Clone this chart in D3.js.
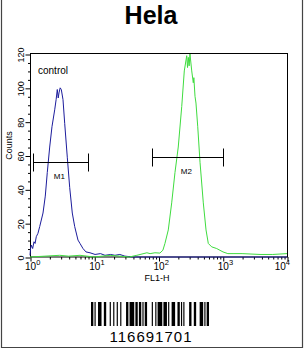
<!DOCTYPE html>
<html>
<head>
<meta charset="utf-8">
<script src="https://cdn.jsdelivr.net/npm/d3@7"></script>
<style>
  body { margin: 0; background: #fff; }
  svg { display: block; font-family: "Liberation Sans", Arial, sans-serif; }
</style>
</head>
<body>
<svg id="chart"></svg>
<script>
// histogram data (FL1-H value, counts)
const controlFL = [1.0, 1.02, 1.048, 1.1, 1.154, 1.2, 1.253, 1.33, 1.416, 1.594, 1.73, 1.858, 2.026, 2.198, 2.423, 2.55, 2.659, 2.75, 2.827, 2.95, 3.07, 3.263, 3.467, 3.806, 4.15, 4.552, 4.962, 5.585, 6.0, 6.68, 7.44, 8.59, 10.3, 12.5, 14.7, 18, 21, 25, 30, 40, 10000];
const controlCounts = [1, 5, 7, 5, 9, 8, 12, 14, 18, 26, 36, 50, 65, 77, 87, 93, 99, 94, 97, 100, 99, 93, 79, 59, 41, 26, 18, 10, 8, 5, 3, 2.5, 1.5, 2, 1, 1.5, 1, 1.5, 0.5, 0, 0];
const sampleFL = [1, 2.9, 4, 6, 10, 17.6, 25, 35, 46, 66, 74, 88, 105, 117, 126, 142, 160.5, 180.6, 203, 230, 252, 275, 283, 291, 300, 309, 329, 348, 355, 370, 383, 408, 443, 498, 549, 596, 673, 805, 1009, 1200, 1445, 2000, 3800, 6000, 10000];
const sampleCounts = [0, 1, 0.5, 1, 0, 1, 0.5, 0, 1, 2.5, 2, 2.5, 2.3, 4, 8, 16, 32, 50, 65, 89, 110, 119, 112, 118, 113, 120, 110, 103, 106, 95, 91, 77, 56, 32, 16, 8, 6, 5, 3, 2, 2, 2, 1.5, 1.5, 2];

// gates
const markerNames = ["M1", "M2"];
const markerFrom = [1.1, 79];
const markerTo = [8.0, 1000];
const markerLevel = [56, 59];

// axes
const yTicks = [0, 20, 40, 60, 80, 100, 120];
const yMinor = [5, 10, 15, 25, 30, 35, 45, 50, 55, 65, 70, 75, 85, 90, 95, 105, 110, 115];
const xTicks = [1, 10, 100, 1000, 10000];
const xExp = ["0", "1", "2", "3", "4"];

const title = "Hela";
const barcodeText = "116691701";

const W = 306, H = 349;
const svg = d3.select("#chart").attr("width", W).attr("height", H);
svg.append("rect").attr("width", W).attr("height", H).attr("fill", "#fff");

// outer frame
svg.append("path")
  .attr("d", `M1.5,0V347.5H302.5V0`)
  .attr("fill", "none").attr("stroke", "#444").attr("stroke-width", 1.2);

svg.append("text")
  .attr("x", 151).attr("y", 24)
  .attr("text-anchor", "middle")
  .attr("font-size", 25).attr("font-weight", "bold")
  .text(title);

const x = d3.scaleLog().domain([1, 10000]).range([30, 287]);
const y = d3.scaleLinear().domain([0, 120]).range([257, 54]);

// plot box
svg.append("rect")
  .attr("x", 30.5).attr("y", 53.5)
  .attr("width", 257).attr("height", 203.5)
  .attr("fill", "none").attr("stroke", "#000");

// y axis
const yAx = svg.append("g").attr("transform", "translate(30.5,0.5)");
yAx.call(d3.axisLeft(y).tickValues(yMinor).tickSize(2.5).tickFormat(""))
  .call(g => g.select(".domain").remove());
const yMaj = svg.append("g").attr("transform", "translate(30.5,0.5)");
yMaj.call(d3.axisLeft(y).tickValues(yTicks).tickSize(5).tickFormat(d3.format("d")))
  .call(g => g.select(".domain").remove());
yMaj.selectAll(".tick text")
  .attr("x", null).attr("dy", null)
  .attr("font-size", 9)
  .attr("font-family", "Liberation Sans, Arial, sans-serif")
  .attr("text-anchor", "middle")
  .attr("transform", "translate(-7,0) rotate(-90)");

svg.append("text")
  .attr("transform", `translate(12,${y(60) - 10}) rotate(-90)`)
  .attr("text-anchor", "middle")
  .attr("font-size", 9)
  .text("Counts");

// x axis
const xMinor = [];
xTicks.slice(0, -1).forEach(d => { for (let k = 2; k < 10; k++) xMinor.push(d * k); });
svg.append("g").attr("transform", "translate(0.5,257)")
  .call(d3.axisBottom(x).tickValues(xMinor).tickSize(2.5).tickFormat(""))
  .call(g => g.select(".domain").remove());
svg.append("g").attr("transform", "translate(0.5,257)")
  .call(d3.axisBottom(x).tickValues(xTicks).tickSize(4.5).tickFormat(""))
  .call(g => g.select(".domain").remove());

const xl = svg.append("g").selectAll("text").data(xTicks).join("text")
  .attr("x", (d, i) => i === xTicks.length - 1 ? x(d) + 3 : x(d) - 5)
  .attr("y", 270)
  .attr("text-anchor", (d, i) => i === xTicks.length - 1 ? "end" : "start")
  .attr("font-size", 10);
xl.append("tspan").text("10");
xl.append("tspan").attr("dy", -5).attr("font-size", 7.5).text((d, i) => xExp[i]);

svg.append("text")
  .attr("x", 157).attr("y", 281)
  .attr("text-anchor", "middle")
  .attr("font-size", 9)
  .text("FL1-H");

// histograms
const line = d3.line().x(d => x(d[0])).y(d => y(d[1]));
svg.append("path")
  .datum(d3.zip(controlFL, controlCounts))
  .attr("d", line)
  .attr("fill", "none").attr("stroke", "#1c1c9c").attr("stroke-width", 1);
svg.append("path")
  .datum(d3.zip(sampleFL, sampleCounts))
  .attr("d", line)
  .attr("fill", "none").attr("stroke", "#3fdc3f").attr("stroke-width", 1);

svg.append("text")
  .attr("x", 38).attr("y", 74)
  .attr("font-size", 10)
  .text("control");

// markers
const mk = svg.append("g").selectAll("g").data(markerNames).join("g");
mk.append("path")
  .attr("d", (d, i) => {
    const a = Math.round(x(markerFrom[i])) + 0.5, b = Math.round(x(markerTo[i])) + 0.5;
    const yy = Math.round(y(markerLevel[i])) + 0.5;
    return `M${a},${yy - 9}V${yy + 9}M${a},${yy}H${b}M${b},${yy - 9}V${yy + 9}`;
  })
  .attr("fill", "none").attr("stroke", "#000");
mk.append("text")
  .attr("x", (d, i) => x(Math.sqrt(markerFrom[i] * markerTo[i])) - 1)
  .attr("y", (d, i) => y(markerLevel[i]) + 17)
  .attr("text-anchor", "middle")
  .attr("font-size", 8)
  .text(d => d);

// barcode (Code 128: start C, 11 66 91 70, code B, "1", check, stop)
const codeWidths = ["211232", "231212", "121421", "412121", "112412", "114131", "123221", "111422", "2331112"];
const modules = [];
codeWidths.join("").split("").forEach((w, i) => modules.push({ w: +w, bar: i % 2 === 0 }));
let pos = 0;
modules.forEach(m => { m.s = pos; pos += m.w; });
const bx = d3.scaleLinear().domain([0, pos]).range([91, 209]);
svg.append("g").selectAll("rect").data(modules.filter(m => m.bar)).join("rect")
  .attr("x", m => bx(m.s)).attr("y", 302)
  .attr("width", m => bx(m.s + m.w) - bx(m.s)).attr("height", 24)
  .attr("fill", "#000");

svg.append("text")
  .attr("x", 151).attr("y", 342)
  .attr("text-anchor", "middle")
  .attr("font-size", 15)
  .attr("letter-spacing", 1)
  .text(barcodeText);
</script>
</body>
</html>
